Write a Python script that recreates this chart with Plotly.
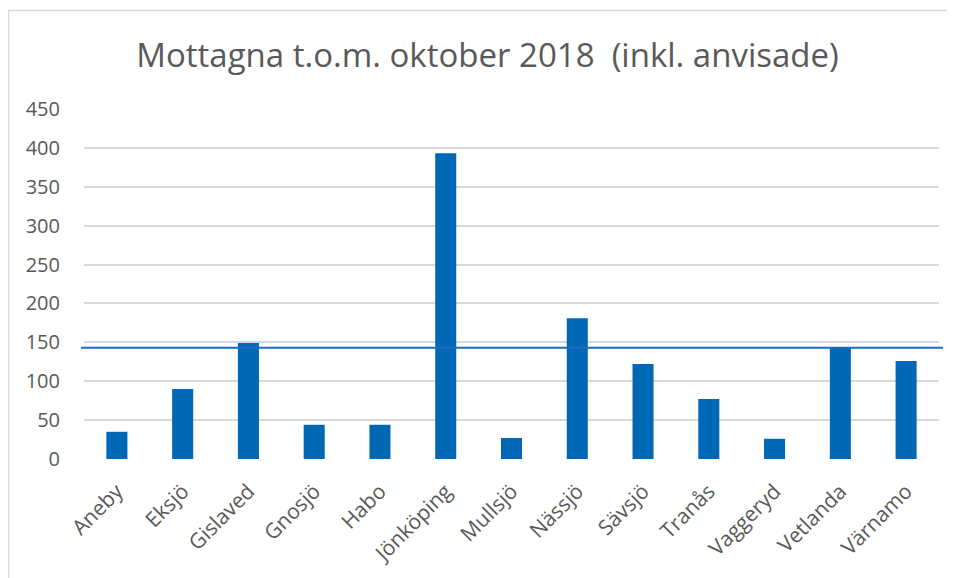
import plotly.graph_objects as go

categories = ["Aneby", "Eksjö", "Gislaved", "Gnosjö", "Habo", "Jönköping", "Mullsjö",
              "Nässjö", "Sävsjö", "Tranås", "Vaggeryd", "Vetlanda", "Värnamo"]
values = [35, 90, 149, 44, 44, 393, 27, 181, 122, 77, 26, 143, 126]
reference_line = 143
y_ticks = [0, 50, 100, 150, 200, 250, 300, 350, 400, 450]

# page body has an 8px margin, so the figure is sized/offset to compensate
W, H = 947, 570
L, R, T, B = 76, 16, 101, 119
pw, ph = W - L - R, H - T - B

def px(x):  # figure x pixel -> paper
    return (x - L) / pw

def py(y):  # figure y pixel -> paper
    return (H - B - y) / ph

fig = go.Figure()
fig.add_trace(go.Bar(x=categories, y=values, marker=dict(color="#0068b4", line=dict(width=0)),
                     width=0.32, hoverinfo="x+y"))

# reference horizontal line
fig.add_shape(type="line", xref="paper", yref="y", x0=px(L - 3), x1=px(L + pw + 4),
              y0=reference_line, y1=reference_line, line=dict(color="#1f6bc2", width=2))

# outer chart border (top and left visible)
fig.add_shape(type="line", xref="paper", yref="paper", x0=px(0), x1=px(W + 20), y0=py(2.5), y1=py(2.5),
              line=dict(color="#d9d9d9", width=1.5))
fig.add_shape(type="line", xref="paper", yref="paper", x0=px(0.5), x1=px(0.5), y0=py(2.5), y1=py(H + 20),
              line=dict(color="#d9d9d9", width=1.5))

fig.update_layout(
    width=W, height=H,
    margin=dict(l=L, r=R, t=T, b=B),
    paper_bgcolor="white", plot_bgcolor="white",
    showlegend=False,
    title=dict(text="Mottagna t.o.m. oktober 2018  (inkl. anvisade)", x=(487.5 - 8) / W, xanchor="center",
               y=1 - 47 / H, yanchor="middle", yref="container",
               font=dict(family="Open Sans", size=33, color="#595959")),
    font=dict(family="Open Sans", color="#595959"),
    xaxis=dict(tickangle=-45, tickfont=dict(size=21, color="#595959"), showgrid=False,
               showline=False, ticks="", zeroline=False, ticklabelstandoff=15),
    yaxis=dict(range=[0, 450], tickvals=y_ticks, tickfont=dict(size=20, color="#595959"),
               showgrid=True, gridcolor="#d9d9d9", gridwidth=1.5, zeroline=False,
               showline=False, ticks="", ticklabelstandoff=23),
)

fig.write_html("out.html")
